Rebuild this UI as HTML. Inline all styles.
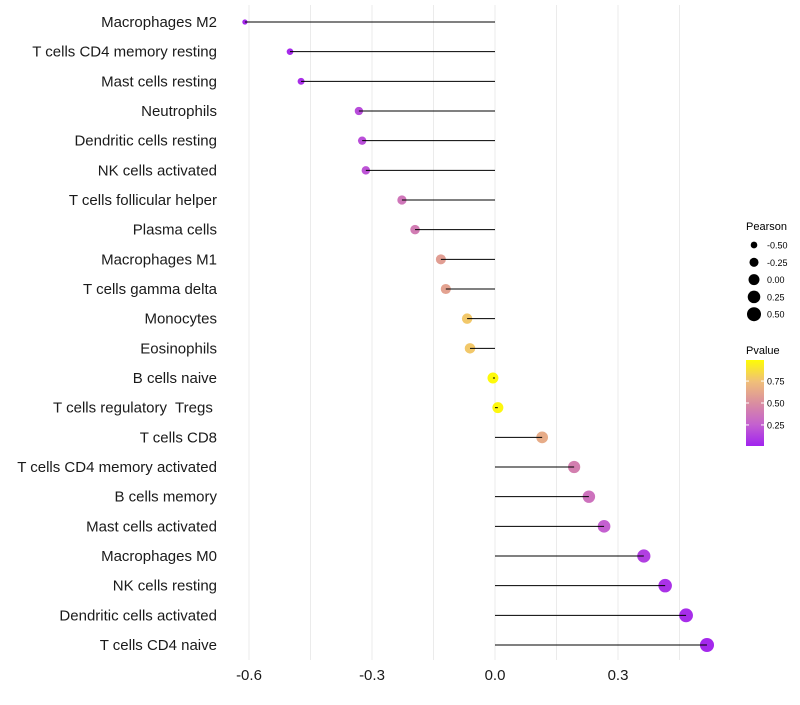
<!DOCTYPE html>
<html><head><meta charset="utf-8"><style>
body{margin:0;background:#fff;font-family:"Liberation Sans",sans-serif}
text{white-space:pre}
</style></head><body>
<svg id="c" width="800" height="700" xmlns="http://www.w3.org/2000/svg" font-family="Liberation Sans, sans-serif"></svg>
<script>
const categories=["Macrophages M2","T cells CD4 memory resting","Mast cells resting","Neutrophils","Dendritic cells resting","NK cells activated","T cells follicular helper","Plasma cells","Macrophages M1","T cells gamma delta","Monocytes","Eosinophils","B cells naive","T cells regulatory  Tregs ","T cells CD8","T cells CD4 memory activated","B cells memory","Mast cells activated","Macrophages M0","NK cells resting","Dendritic cells activated","T cells CD4 naive"];
const pearson=[-0.61,-0.5,-0.473,-0.332,-0.324,-0.315,-0.227,-0.195,-0.132,-0.12,-0.068,-0.061,-0.005,0.007,0.115,0.193,0.229,0.266,0.363,0.415,0.466,0.517];
const pvalue=[0.03,0.04,0.06,0.17,0.18,0.2,0.37,0.4,0.58,0.6,0.78,0.78,0.98,0.97,0.65,0.42,0.35,0.25,0.12,0.07,0.05,0.03];
const xTicks=[-0.6,-0.3,0.0,0.3];
const xTickLabels=["-0.6","-0.3","0.0","0.3"];
const sizeLegend=[-0.5,-0.25,0,0.25,0.5];
const pLegend=[0.25,0.5,0.75];
const svg=document.getElementById('c');const NS="http://www.w3.org/2000/svg";
function mk(t,a,p){const e=document.createElementNS(NS,t);for(const k in a)e.setAttribute(k,a[k]);(p||svg).appendChild(e);return e;}
const x=v=>495+v*410;
const y=i=>22+i*(623/21);
const r=v=>Math.sqrt(Math.max(1,30+38*v));
const stops=[[0,[160,32,240]],[0.25,[196,96,208]],[0.5,[218,142,160]],[0.75,[240,192,120]],[1,[255,255,0]]];
function col(p){let k=0;while(k<stops.length-2&&p>stops[k+1][0])k++;const a=stops[k],b=stops[k+1];const t=Math.min(1,Math.max(0,(p-a[0])/(b[0]-a[0])));const c=a[1].map((v,j)=>Math.round(v+(b[1][j]-v)*t));return `rgb(${c})`;}
[-0.6,-0.45,-0.3,-0.15,0,0.15,0.3,0.45].forEach(v=>{const g=mk('line',{x1:x(v),x2:x(v),y1:5,y2:660,stroke:'#ebebeb','stroke-width':1});

});
xTicks.forEach((v,i)=>{const t=mk('text',{x:x(v),y:680,'text-anchor':'middle','font-size':15,fill:'#1a1a1a'});t.textContent=xTickLabels[i];

});
categories.forEach((c,i)=>{
const t=mk('text',{x:217,y:y(i)+5,'text-anchor':'end','font-size':15,fill:'#1a1a1a'});t.textContent=c;


const d=mk('circle',{cx:x(pearson[i]),cy:y(i),r:r(pearson[i]),fill:col(pvalue[i])});


const l=mk('line',{x1:x(0),x2:x(pearson[i]),y1:y(i),y2:y(i),stroke:'#000','stroke-width':1});


});
let t=mk('text',{x:746,y:230,'font-size':11});t.textContent='Pearson';


sizeLegend.forEach((v,i)=>{const yy=245+i*17.3;const c=mk('circle',{cx:754,cy:yy,r:r(v),fill:'#000'});


const tt=mk('text',{x:767,y:yy+3.5,'font-size':9});tt.textContent=v.toFixed(2);

});
t=mk('text',{x:746,y:354,'font-size':11});t.textContent='Pvalue';


const defs=mk('defs',{});const gr=mk('linearGradient',{id:'g',x1:0,y1:1,x2:0,y2:0},defs);
[0,0.25,0.5,0.75,1].forEach(o=>mk('stop',{offset:o,'stop-color':col(0.01+o*0.98)},gr));
const bar=mk('rect',{x:746,y:360,width:18,height:86,fill:'url(#g)'});


const py=p=>446-(p-0.01)/0.98*86;
pLegend.forEach(p=>{mk('line',{x1:746,x2:749,y1:py(p),y2:py(p),stroke:'#fff'});mk('line',{x1:761,x2:764,y1:py(p),y2:py(p),stroke:'#fff'});
const tt=mk('text',{x:767,y:py(p)+3.5,'font-size':9});tt.textContent=p.toFixed(2);

});
</script>
</body></html>
